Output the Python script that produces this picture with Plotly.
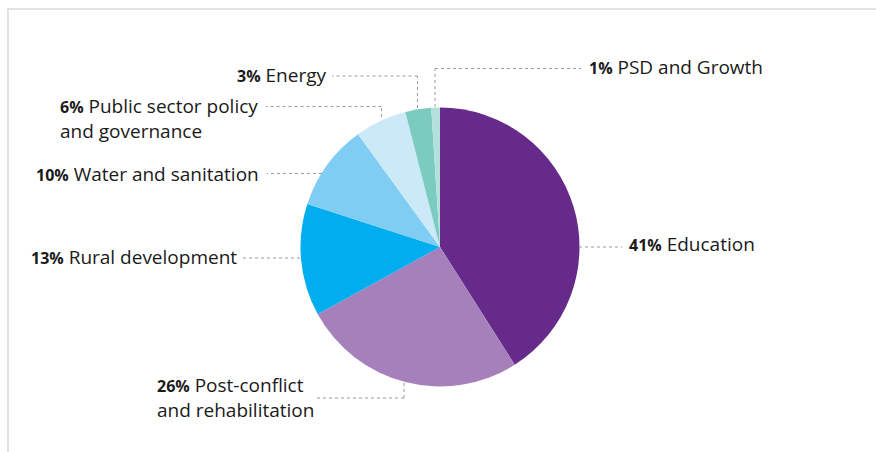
import plotly.graph_objects as go

# ---- data ----
sectors = ["Education", "Post-conflict and rehabilitation", "Rural development",
           "Water and sanitation", "Public sector policy and governance",
           "Energy", "PSD and Growth"]
shares = [41, 26, 13, 10, 6, 3, 1]
label_lines = [["Education"], ["Post-conflict", "and rehabilitation"], ["Rural development"],
               ["Water and sanitation"], ["Public sector policy", "and governance"],
               ["Energy"], ["PSD and Growth"]]
colors = ["#662a8a", "#a680bb", "#00aeef", "#7fcdf2", "#cce9f8", "#7bcbc0", "#b3e0da"]

W, H = 876, 452
def px(x): return x / W
def py(y): return 1 - y / H

# pie geometry (pixels)
cx, cy, r = 440, 247, 139.5

# label layout: anchor (x, y), xanchor, leader path in pixels
label_layout = {
    "Education": dict(x=627, y=244, xa="left", path=[(579, 247), (622, 247)]),
    "Post-conflict and rehabilitation": dict(x=316, y=397, xa="right", path=[(404, 383), (404, 398), (317, 398)]),
    "Rural development": dict(x=239, y=257, xa="right", path=[(300, 258), (242, 258)]),
    "Water and sanitation": dict(x=261, y=174, xa="right", path=[(322, 173.5), (267, 173.5)]),
    "Public sector policy and governance": dict(x=260, y=118, xa="right", path=[(381.5, 117), (381.5, 106.5), (266, 106.5)]),
    "Energy": dict(x=328, y=75, xa="right", path=[(417.5, 108), (417.5, 76), (332, 76)]),
    "PSD and Growth": dict(x=587, y=67, xa="left", path=[(435, 107), (435, 68.5), (581, 68.5)]),
}

fig = go.Figure(go.Pie(
    labels=sectors, values=shares, sort=False, direction="clockwise", rotation=0,
    marker=dict(colors=colors, line=dict(width=0)),
    textinfo="none", hoverinfo="label+percent", showlegend=False,
    domain=dict(x=[px(cx - r), px(cx + r)], y=[py(cy + r), py(cy - r)]),
))

shapes = [
    dict(type="line", xref="paper", yref="paper", x0=px(7), x1=px(876), y0=py(9), y1=py(9),
         line=dict(color="#e2e2e2", width=2)),
    dict(type="line", xref="paper", yref="paper", x0=px(8), x1=px(8), y0=py(9), y1=py(452),
         line=dict(color="#e2e2e2", width=2)),
]
annotations = []
for name, share, lines in zip(sectors, shares, label_lines):
    L = label_layout[name]
    pts = L["path"]
    for (x0, y0), (x1, y1) in zip(pts[:-1], pts[1:]):
        shapes.append(dict(type="line", xref="paper", yref="paper",
                           x0=px(x0), y0=py(y0), x1=px(x1), y1=py(y1),
                           line=dict(color="#9a9a9a", width=1, dash="dot")))
    text = f"<b><span style='font-size:16px'>{share}%</span></b> " + "<br>".join(lines)
    annotations.append(dict(xref="paper", yref="paper", x=px(L["x"]), y=py(L["y"]),
                            xanchor=L["xa"], yanchor="middle", align="left",
                            text=text, showarrow=False,
                            font=dict(family="Open Sans", size=19, color="#1a1a1a")))

fig.update_layout(width=W, height=H, margin=dict(l=0, r=0, t=0, b=0),
                  paper_bgcolor="white", plot_bgcolor="white",
                  shapes=shapes, annotations=annotations)
fig.write_html("out.html", config={"displayModeBar": False},
               post_script="document.body.style.margin='0';")
